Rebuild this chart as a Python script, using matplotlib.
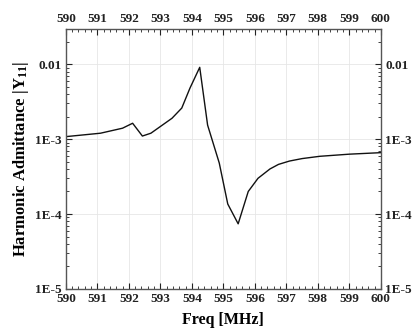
import numpy as np
import matplotlib
matplotlib.use("Agg")
import matplotlib.pyplot as plt
import matplotlib.ticker as mticker

# values
freq = [590.0, 591.1, 591.8, 592.12, 592.43, 592.7, 593.37, 593.68, 593.94,
        594.25, 594.5, 594.87, 595.14, 595.47, 595.79, 596.1, 596.48, 596.75,
        597.1, 597.5, 598.06, 599.0, 600.0]
admit = [1.08e-3, 1.2e-3, 1.4e-3, 1.63e-3, 1.1e-3, 1.2e-3, 1.9e-3, 2.6e-3, 4.8e-3,
         9.1e-3, 1.54e-3, 4.8e-4, 1.36e-4, 7.4e-5, 2.0e-4, 3.0e-4, 4.0e-4, 4.6e-4,
         5.1e-4, 5.5e-4, 5.9e-4, 6.3e-4, 6.6e-4]
ytick_vals = [1e-5, 1e-4, 1e-3, 1e-2]
ytick_text = ["1E-5", "1E-4", "1E-3", "0.01"]

plt.rcParams['font.family'] = ['Liberation Serif', 'DejaVu Serif']
plt.rcParams['font.weight'] = 'bold'
plt.rcParams['mathtext.fontset'] = 'custom'
plt.rcParams['mathtext.rm'] = 'Liberation Serif:bold'
plt.rcParams['mathtext.it'] = 'Liberation Serif:bold'
plt.rcParams['mathtext.bf'] = 'Liberation Serif:bold'

fig = plt.figure(figsize=(4.14, 3.34), dpi=100, facecolor='w')
ax = fig.add_axes([0.159, 0.135, 0.761, 0.778])

ax.plot(freq, admit, color='#111111', linewidth=1.0)
ax.set_yscale('log')
ax.set_xlim(590, 600)
ax.set_ylim(1e-5, 10**-1.53)

ax.set_xticks(np.arange(590, 600.1, 1))
ax.xaxis.set_minor_locator(mticker.MultipleLocator(0.2))
ax.set_yticks(ytick_vals)
ax.set_yticklabels(ytick_text)
ax.yaxis.set_minor_locator(mticker.LogLocator(base=10, subs=np.arange(2, 10), numticks=20))
ax.yaxis.set_minor_formatter(mticker.NullFormatter())

ax.tick_params(which='both', direction='in', top=True, right=True,
               labeltop=True, labelright=True, labelsize=9.5, colors='#222222', pad=3)
ax.tick_params(which='major', length=4, width=0.8)
ax.tick_params(which='minor', length=2, width=0.6)
for lab in ax.get_xticklabels() + ax.get_yticklabels():
    lab.set_fontweight('bold')

ax.grid(True, which='major', color='#e6e6e6', linewidth=0.6)
for s in ax.spines.values():
    s.set_color('#555555')
    s.set_linewidth(1.0)

ax.set_xlabel("Freq [MHz]", fontsize=11.5, fontweight='bold', labelpad=5)
ax.set_ylabel(r"Harmonic Admittance |Y$_{11}$|", fontsize=12, fontweight='bold', labelpad=3)

fig.savefig("out.png", dpi=100)
